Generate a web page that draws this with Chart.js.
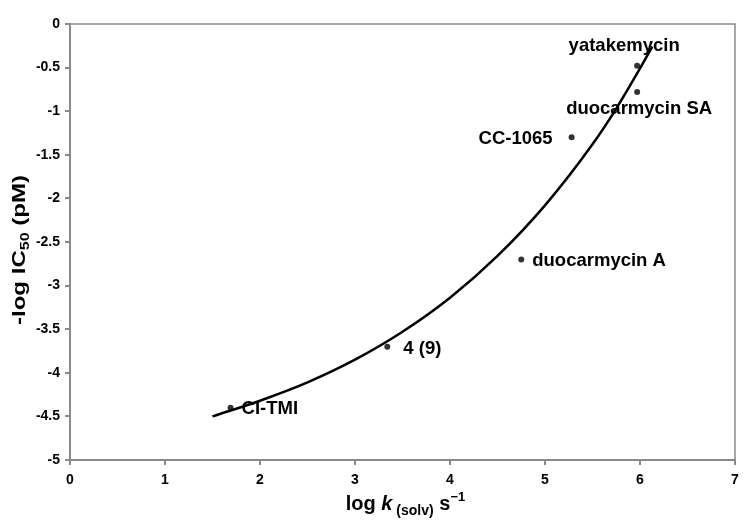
<!DOCTYPE html>
<html>
<head>
<meta charset="utf-8">
<script src="https://cdn.jsdelivr.net/npm/chart.js@4.4.1/dist/chart.umd.min.js"></script>
<style>
  html, body { margin: 0; padding: 0; background: #ffffff; }
  #c { display: block; }
</style>
</head>
<body>
<canvas id="c" width="750" height="532"></canvas>
<script>
// ---- data ----
const categories = ['yatakemycin', 'duocarmycin SA', 'CC-1065', 'duocarmycin A', '4 (9)', 'CI-TMI'];
const logKsolv = [5.97, 5.97, 5.28, 4.75, 3.34, 1.69];
const negLogIC50 = [-0.48, -0.78, -1.30, -2.70, -3.70, -4.40];

// fitted curve
const fitX = [1.50, 2.00, 2.50, 3.00, 3.50, 4.00, 4.50, 5.00, 5.50, 5.75, 6.00, 6.13];
const fitY = [-4.50, -4.32, -4.11, -3.85, -3.53, -3.14, -2.66, -2.08, -1.38, -0.97, -0.51, -0.26];

const xTickValues = [0, 1, 2, 3, 4, 5, 6, 7];
const yTickValues = [0, -0.5, -1, -1.5, -2, -2.5, -3, -3.5, -4, -4.5, -5];

// label placement (pixel offsets from each point)
const labelPlacement = [
  { align: 'center', dx: -13, dy: -15 },
  { align: 'left',   dx: -71, dy: 22 },
  { align: 'right',  dx: -19, dy: 6.5 },
  { align: 'left',   dx: 11,  dy: 7 },
  { align: 'left',   dx: 16,  dy: 7 },
  { align: 'left',   dx: 11,  dy: 6.6 }
];

const FONT = '"Liberation Sans", Arial, Helvetica, sans-serif';
const AXIS_GRAY = '#8a8a8a';

const pointData = logKsolv.map((x, i) => ({ x: x, y: negLogIC50[i] }));
const fitData = fitX.map((x, i) => ({ x: x, y: fitY[i] }));

const framePlugin = {
  id: 'frame',
  beforeDatasetsDraw(chart) {
    const { ctx, chartArea: a } = chart;
    ctx.save();
    ctx.strokeStyle = AXIS_GRAY;
    ctx.lineWidth = 1.5;
    ctx.beginPath();
    ctx.moveTo(a.left, a.top);
    ctx.lineTo(a.right, a.top);
    ctx.lineTo(a.right, a.bottom + 5);
    ctx.stroke();
    ctx.restore();
  }
};

const textPlugin = {
  id: 'texts',
  afterDatasetsDraw(chart) {
    const { ctx, chartArea: a } = chart;
    const xs = chart.scales.x, ys = chart.scales.y;
    ctx.save();
    ctx.fillStyle = '#000';
    ctx.textBaseline = 'alphabetic';
    ctx.font = 'bold 18.5px ' + FONT;
    categories.forEach((name, i) => {
      const px = xs.getPixelForValue(logKsolv[i]);
      const py = ys.getPixelForValue(negLogIC50[i]);
      const p = labelPlacement[i];
      ctx.textAlign = p.align;
      ctx.fillText(name, px + p.dx, py + p.dy);
    });

    // x axis title: log k(solv) s^-1
    const parts = [
      { t: 'log ', f: 'bold 20px ' + FONT, dy: 0 },
      { t: 'k', f: 'italic bold 20px ' + FONT, dy: 0 },
      { t: ' (solv)', f: 'bold 14px ' + FONT, dy: 5 },
      { t: ' s', f: 'bold 20px ' + FONT, dy: 0 },
      { t: '\u22121', f: 'bold 13px ' + FONT, dy: -9 }
    ];
    ctx.textAlign = 'left';
    let total = 0;
    parts.forEach(p => { ctx.font = p.f; p.w = ctx.measureText(p.t).width; total += p.w; });
    let x = (a.left + a.right) / 2 + 3 - total / 2;
    const base = 510;
    parts.forEach(p => { ctx.font = p.f; ctx.fillText(p.t, x, base + p.dy); x += p.w; });

    // y axis title: -log IC50 (pM)
    const yparts = [
      { t: '-log IC', f: 'bold 18px ' + FONT, dy: 0 },
      { t: '50', f: 'bold 12px ' + FONT, dy: 4 },
      { t: ' (pM)', f: 'bold 18px ' + FONT, dy: 0 }
    ];
    let ytotal = 0;
    yparts.forEach(p => { ctx.font = p.f; p.w = ctx.measureText(p.t).width; ytotal += p.w; });
    const targetLen = 150;
    const sx = targetLen / ytotal;
    ctx.save();
    ctx.translate(25, 250);
    ctx.rotate(-Math.PI / 2);
    ctx.scale(sx, 1);
    let yx = -ytotal / 2;
    yparts.forEach(p => { ctx.font = p.f; ctx.fillText(p.t, yx, p.dy); yx += p.w; });
    ctx.restore();

    ctx.restore();
  }
};

new Chart(document.getElementById('c'), {
  type: 'scatter',
  data: {
    datasets: [
      {
        label: 'points',
        data: pointData,
        pointRadius: 3,
        pointHoverRadius: 3,
        pointBackgroundColor: '#333333',
        pointBorderWidth: 0,
        showLine: false,
        order: 2
      },
      {
        label: 'fit',
        data: fitData,
        showLine: true,
        pointRadius: 0,
        borderColor: '#000000',
        borderWidth: 2.5,
        cubicInterpolationMode: 'monotone',
        fill: false,
        order: 1
      }
    ]
  },
  options: {
    responsive: false,
    animation: false,
    layout: { padding: { top: 24, right: 15, left: 0, bottom: 0 } },
    plugins: { legend: { display: false }, tooltip: { enabled: false } },
    scales: {
      x: {
        type: 'linear',
        min: 0, max: 7,
        afterFit(s) { s.height = 72; },
        afterBuildTicks(s) { s.ticks = xTickValues.map(v => ({ value: v })); },
        border: { display: true, color: AXIS_GRAY, width: 2 },
        grid: { display: true, drawOnChartArea: false, drawTicks: true, tickLength: 5, color: AXIS_GRAY, lineWidth: 2 },
        ticks: { color: '#000', padding: 7, font: { family: FONT, size: 14, weight: 'bold' }, maxRotation: 0 }
      },
      y: {
        type: 'linear',
        min: -5, max: 0,
        afterFit(s) { s.width = 70; },
        afterBuildTicks(s) { s.ticks = yTickValues.map(v => ({ value: v })); },
        border: { display: true, color: AXIS_GRAY, width: 2 },
        grid: { display: true, drawOnChartArea: false, drawTicks: true, tickLength: 5, color: AXIS_GRAY, lineWidth: 2 },
        ticks: { color: '#000', padding: 5, font: { family: FONT, size: 14, weight: 'bold' },
          callback: v => String(v) }
      }
    }
  },
  plugins: [framePlugin, textPlugin]
});
</script>
</body>
</html>
